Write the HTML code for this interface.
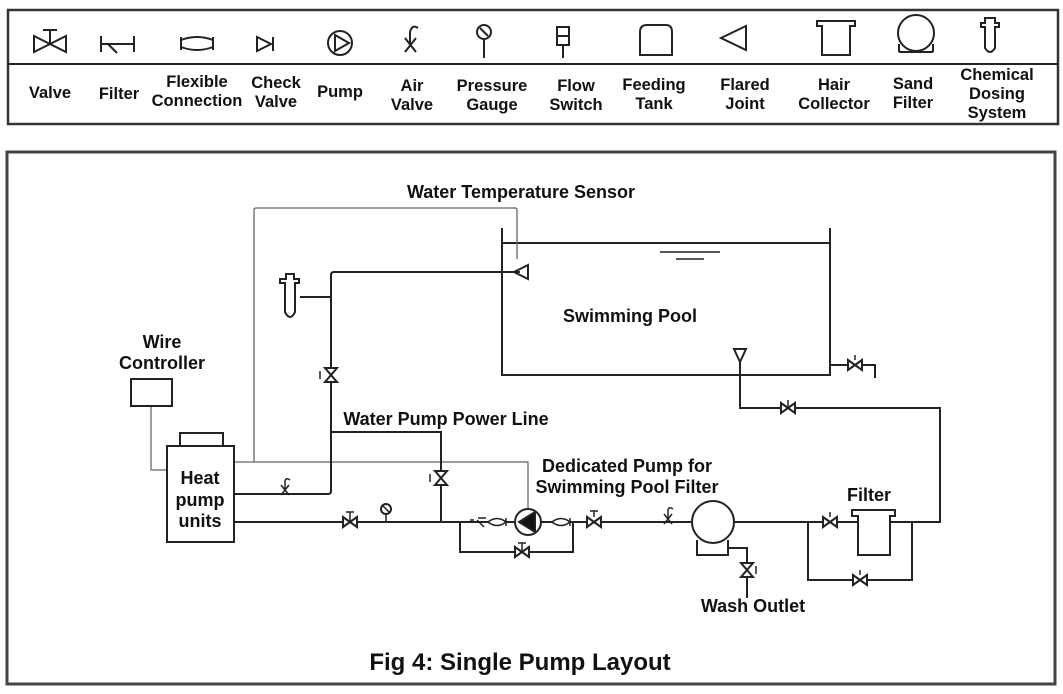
<!DOCTYPE html>
<html><head><meta charset="utf-8"><style>
html,body{margin:0;padding:0;background:#fff}
svg text{font-family:"Liberation Sans",sans-serif;font-weight:bold;fill:#111}
</style></head><body>
<svg width="1063" height="689" viewBox="0 0 1063 689" xmlns="http://www.w3.org/2000/svg">
<g fill="none" stroke="#222" stroke-width="2">
<rect x="8" y="10" width="1050" height="114" stroke="#333" stroke-width="2.5"/>
<line x1="8" y1="64" x2="1058" y2="64" stroke-width="2"/>
<path d="M34,36 L34,52 L66,36 L66,52 Z M50,44 L50,30 M43,30 L57,30"/>
<path d="M101,36 L101,52 M101,44 L134,44 M134,36 L134,52 M108,44 L117,53"/>
<path d="M181,37 L181,50 M213,37 L213,50 M181,40 Q197,34 213,40 M181,47 Q197,53 213,47"/>
<path d="M257,37 L257,51 L271,44 Z M273,37 L273,51"/>
<circle cx="340" cy="43" r="12"/><path d="M335,35 L335,51 L349,43 Z"/>
<path d="M405,38 L416,52 M416,38 L405,52 M410,45 L410,32 Q412,24 418,28"/>
<circle cx="484" cy="32" r="7"/><path d="M480,28 L488,36 M484,39 L484,58"/>
<rect x="557" y="27" width="12" height="18"/><path d="M557,36 L569,36 M563,45 L563,58"/>
<path d="M640,55 L640,32 Q640,25 647,25 L666,25 Q672,25 672,32 L672,55 Z"/>
<path d="M746,26 L721,38 L746,50 Z"/>
<path d="M817,21 L855,21 L855,26 L850,26 L850,55 L822,55 L822,26 L817,26 Z"/>
<circle cx="916" cy="33" r="18"/><path d="M899,52 L899,44 M933,52 L933,44 M899,52 L933,52"/>
<path d="M985,18 L995,18 L995,23 L999,23 L999,27 L995,27 L995,48 Q990,56 985,48 L985,27 L981,27 L981,23 L985,23 Z"/>

<rect x="7" y="152" width="1048" height="532" stroke="#444" stroke-width="3"/>

<path d="M502,228 L502,375 L830,375 L830,228 M502,243 L830,243"/>
<path d="M660,252 L720,252 M676,259 L704,259" stroke-width="1.5"/>

<g stroke="#666" stroke-width="1.3">
<path d="M254,462 L254,210 Q254,208 256,208 L515,208 Q517,208 517,210 L517,259"/>
<path d="M234,462 L528,462 L528,510"/>
<path d="M151,406 L151,470 L167,470"/>
</g>

<rect x="131" y="379" width="41" height="27"/>
<rect x="180" y="433" width="43" height="13"/>
<rect x="167" y="446" width="67" height="96"/>

<path d="M234,494 L328,494 Q331,494 331,491 L331,275 Q331,272 334,272 L520,272"/>
<path d="M300,297 L331,297"/>
<path d="M331,432 L441,432 L441,522"/>
<path d="M234,522 L940,522 L940,408 L740,408 L740,362"/>
<path d="M460,522 L460,552 L573,552 L573,522"/>
<path d="M728,548 L747,548 L747,598"/>
<path d="M808,522 L808,580 L912,580 L912,522"/>
<path d="M830,365 L875,365 L875,378"/>

<path d="M528,265 L514,272 L528,279 Z"/>
<path d="M734,349 L746,349 L740,362 Z"/>
<path d="M286,274 L294,274 L294,279 L299,279 L299,283 L295,283 L295,312 Q290,322 285,312 L285,283 L280,283 L280,279 L286,279 Z" fill="#fff"/>

<g fill="#fff">
<path d="M325,368 L337,368 L325,382 L337,382 Z"/>
<path d="M435,471 L447,471 L435,485 L447,485 Z"/>
<path d="M741,563 L753,563 L741,577 L753,577 Z"/>
<path d="M343,517 L343,527 L357,517 L357,527 Z"/>
<path d="M587,517 L587,527 L601,517 L601,527 Z"/>
<path d="M515,547 L515,557 L529,547 L529,557 Z"/>
<path d="M823,517 L823,527 L837,517 L837,527 Z"/>
<path d="M853,575 L853,585 L867,575 L867,585 Z"/>
<path d="M781,403 L781,413 L795,403 L795,413 Z"/>
<path d="M848,360 L848,370 L862,360 L862,370 Z"/>
</g>
<path d="M350,522 L350,512 M346,512 L354,512 M594,517 L594,511 M590,511 L598,511 M522,552 L522,543 M518,543 L526,543 M830,517 L830,512 M860,575 L860,570 M788,408 L788,400 M855,360 L855,355 M320,371 L320,379 M430,474 L430,482 M756,566 L756,574" stroke-width="1.5"/>
<circle cx="386" cy="509" r="5" fill="#fff"/><path d="M386,514 L386,522 M383,506 L389,512" stroke-width="1.5"/>
<path d="M281,485 L289,495 M289,485 L281,495 M285,490 L285,481 Q286,477 290,480" stroke-width="1.5"/>
<path d="M664,514 L672,524 M672,514 L664,524 M668,519 L668,510 Q669,506 673,509" stroke-width="1.5"/>
<path d="M470,520 L474,520 M477,520 L484,527 M478,518 L486,518" stroke-width="1.5"/>
<path d="M488,522 Q497,515 506,522 Q497,529 488,522 Z M506,518 L506,526" fill="#fff" stroke-width="1.5"/>
<path d="M552,522 Q561,515 570,522 Q561,529 552,522 Z M570,518 L570,526" fill="#fff" stroke-width="1.5"/>
<circle cx="528" cy="522" r="13" fill="#fff"/>
<path d="M519,522 L535,512 L535,532 Z" fill="#111"/>
<circle cx="713" cy="522" r="21" fill="#fff"/>
<path d="M697,540 L697,555 L728,555 L728,540"/>
<path d="M852,510 L895,510 L895,516 L890,516 L890,555 L858,555 L858,516 L852,516 Z" fill="#fff"/>
</g>

<g font-size="16.5" text-anchor="middle">
<text x="50" y="98">Valve</text>
<text x="119" y="99">Filter</text>
<text x="197" y="87">Flexible</text><text x="197" y="106">Connection</text>
<text x="276" y="88">Check</text><text x="276" y="107">Valve</text>
<text x="340" y="97">Pump</text>
<text x="412" y="91">Air</text><text x="412" y="110">Valve</text>
<text x="492" y="91">Pressure</text><text x="492" y="110">Gauge</text>
<text x="576" y="91">Flow</text><text x="576" y="110">Switch</text>
<text x="654" y="90">Feeding</text><text x="654" y="109">Tank</text>
<text x="745" y="90">Flared</text><text x="745" y="109">Joint</text>
<text x="834" y="90">Hair</text><text x="834" y="109">Collector</text>
<text x="913" y="89">Sand</text><text x="913" y="108">Filter</text>
<text x="997" y="80">Chemical</text><text x="997" y="99">Dosing</text><text x="997" y="118">System</text>
</g>

<g font-size="18">
<text x="521" y="198" text-anchor="middle">Water Temperature Sensor</text>
<text x="630" y="322" text-anchor="middle">Swimming Pool</text>
<text x="162" y="348" text-anchor="middle">Wire</text>
<text x="162" y="369" text-anchor="middle">Controller</text>
<text x="200" y="484" text-anchor="middle">Heat</text>
<text x="200" y="506" text-anchor="middle">pump</text>
<text x="200" y="527" text-anchor="middle">units</text>
<text x="446" y="425" text-anchor="middle">Water Pump Power Line</text>
<text x="627" y="472" text-anchor="middle">Dedicated Pump  for</text>
<text x="627" y="493" text-anchor="middle">Swimming Pool Filter</text>
<text x="869" y="501" text-anchor="middle">Filter</text>
<text x="753" y="612" text-anchor="middle">Wash Outlet</text>
<text x="520" y="670" text-anchor="middle" font-size="24">Fig 4: Single Pump Layout</text>
</g>
</svg>
</body></html>
